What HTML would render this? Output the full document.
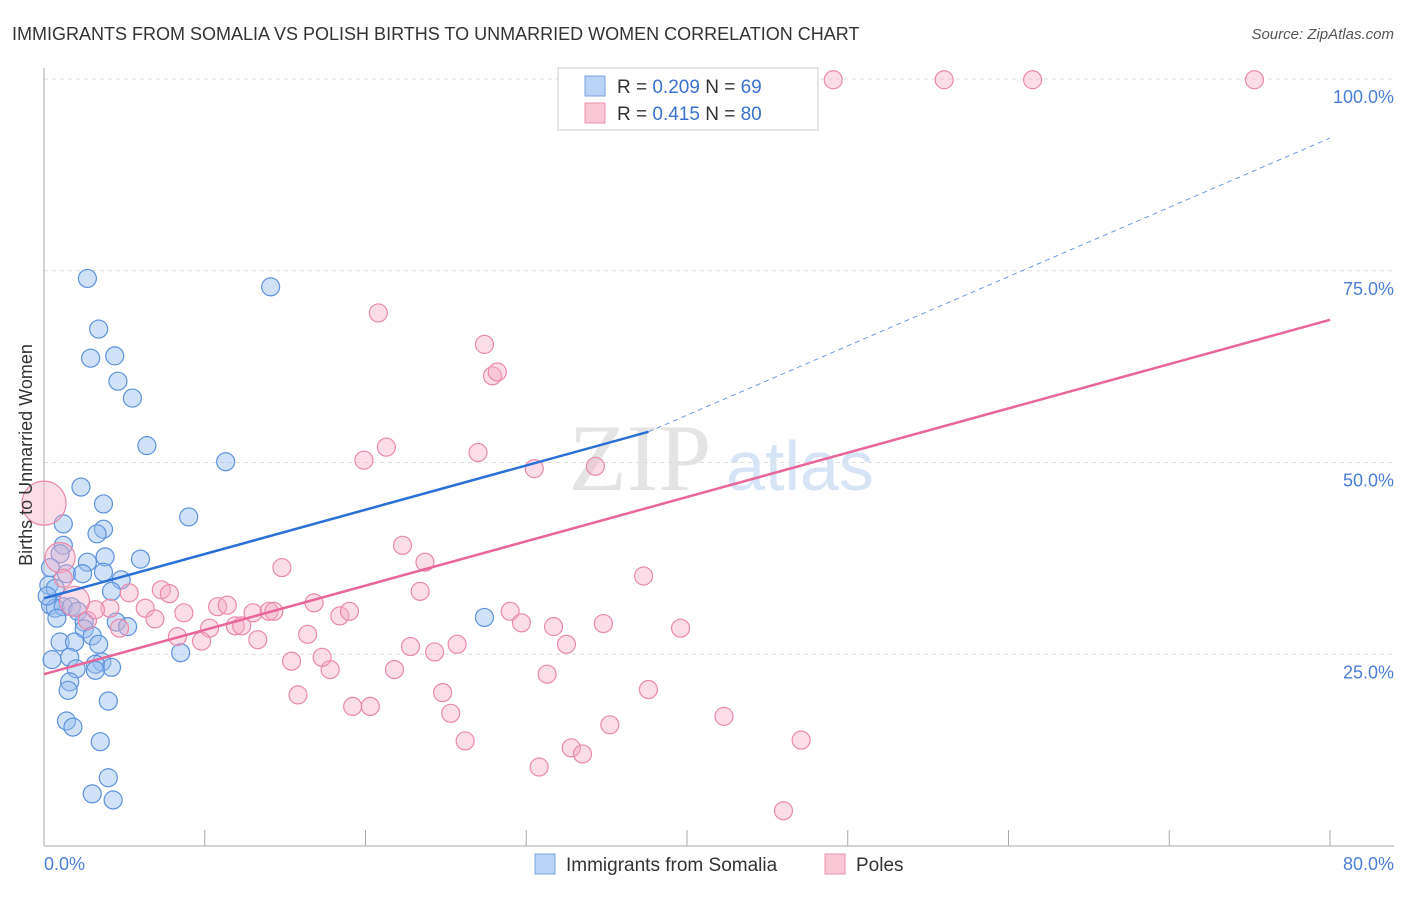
<!DOCTYPE html>
<html><head><meta charset="utf-8"><style>
body{margin:0;background:#fff;font-family:"Liberation Sans",sans-serif}
</style></head><body>
<svg width="1406" height="892" xmlns="http://www.w3.org/2000/svg" font-family="Liberation Sans, sans-serif">
<text x="12" y="40" font-size="18" fill="#333">IMMIGRANTS FROM SOMALIA VS POLISH BIRTHS TO UNMARRIED WOMEN CORRELATION CHART</text>
<text x="1394" y="39" font-size="15" fill="#555" font-style="italic" text-anchor="end">Source: ZipAtlas.com</text>
<text x="640" y="490" font-size="95" fill="#e4e4e4" font-family="Liberation Serif, serif" text-anchor="middle">ZIP</text>
<text x="800" y="490" font-size="70" fill="#d6e4f5" text-anchor="middle">atlas</text>
<g id="grid"></g>
<g id="axes"></g>
<g id="pts"></g>
<g id="lines"></g>
<text x="32" y="455" font-size="18" fill="#333" text-anchor="middle" transform="rotate(-90 32 455)">Births to Unmarried Women</text>
<text x="44" y="870" font-size="18" fill="#4a7fd4">0.0%</text>
<text x="1394" y="870" font-size="18" fill="#4a7fd4" text-anchor="end">80.0%</text>
<g>
<rect x="558" y="68" width="260" height="62" fill="#fff" stroke="#ccc"/>
<rect x="585" y="76" width="20" height="20" fill="#b8d3f5" stroke="#7aa6e0"/>
<rect x="585" y="103" width="20" height="20" fill="#f9c6d6" stroke="#ee93b0"/>
<text x="617" y="93" font-size="19" fill="#333">R = <tspan fill="#3a72cc">0.209</tspan>   N = <tspan fill="#3a72cc">69</tspan></text>
<text x="617" y="120" font-size="19" fill="#333">R =  <tspan fill="#3a72cc">0.415</tspan>   N = <tspan fill="#3a72cc">80</tspan></text>
</g>
<g>
<rect x="535" y="854" width="20" height="20" fill="#b8d3f5" stroke="#7aa6e0"/>
<text x="566" y="871" font-size="19" fill="#333">Immigrants from Somalia</text>
<rect x="825" y="854" width="20" height="20" fill="#f9c6d6" stroke="#ee93b0"/>
<text x="856" y="871" font-size="19" fill="#333">Poles</text>
</g>
</svg>
<script>
const yTicks=[25,50,75,100];
const xTicks=[0,10,20,30,40,50,60,70,80];
const blueX=[2.7,14.1,3.4,2.9,4.4,4.6,5.5,6.4,11.3,2.3,3.7,9.0,1.2,3.7,3.3,1.2,1.0,2.7,3.8,6.0,0.4,1.4,2.4,3.7,4.8,0.3,4.2,0.4,0.7,1.2,1.7,2.1,0.8,2.5,4.5,5.2,2.5,3.0,1.0,1.9,3.4,8.5,0.5,1.6,3.6,3.2,2.0,4.2,3.2,1.6,1.5,4.0,1.4,1.8,3.5,3.0,4.3,4.0,27.4,0.7,0.2];
const blueY=[74.0,72.9,67.4,63.6,63.9,60.6,58.4,52.2,50.1,46.8,44.6,42.9,42.0,41.3,40.7,39.2,38.1,37.0,37.7,37.4,36.3,35.5,35.5,35.7,34.7,34.0,33.2,31.4,31.0,31.2,31.2,30.6,29.7,29.2,29.2,28.6,28.3,27.4,26.6,26.6,26.3,25.2,24.3,24.6,24.0,23.7,23.1,23.3,22.9,21.4,20.3,18.9,16.3,15.5,13.6,6.8,6.0,8.9,29.8,33.6,32.6];
const blueR=[9,9,9,9,9,9,9,9,9,9,9,9,9,9,9,9,9,9,9,9,9,9,9,9,9,9,9,9,9,9,9,9,9,9,9,9,9,9,9,9,9,9,9,9,9,9,9,9,9,9,9,9,9,9,9,9,9,9,9,9,9];
const pinkX=[35.9,49.1,56.0,61.5,75.3,20.8,27.4,27.9,28.2,21.3,19.9,27.0,30.5,34.3,22.3,23.7,14.8,37.3,0,1.0,1.2,7.3,7.8,23.4,1.9,4.1,6.3,8.7,10.8,11.4,13.0,14.0,14.3,16.8,18.4,19.0,29.0,29.7,31.7,34.8,39.6,2.7,4.7,6.9,10.3,11.9,12.3,13.3,8.3,9.8,16.4,22.8,24.3,25.7,32.5,15.4,17.8,17.3,21.8,24.8,15.8,31.3,37.6,19.2,20.3,25.3,26.2,42.3,35.2,32.8,33.5,30.8,47.1,46.0,3.2,5.3];
const pinkY=[99.9,99.9,99.9,99.9,99.9,69.5,65.4,61.3,61.8,52.0,50.3,51.3,49.2,49.5,39.2,37.0,36.3,35.2,44.7,37.6,34.9,33.4,32.9,33.2,31.9,31.0,31.0,30.4,31.2,31.4,30.4,30.6,30.6,31.7,30.0,30.6,30.6,29.1,28.6,29.0,28.4,29.4,28.4,29.6,28.4,28.7,28.7,26.9,27.3,26.7,27.6,26.0,25.3,26.3,26.3,24.1,23.0,24.6,23.0,20.0,19.7,22.4,20.4,18.2,18.2,17.3,13.7,16.9,15.8,12.8,12.0,10.3,13.8,4.6,30.8,33.0];
const pinkR=[9,9,9,9,9,9,9,9,9,9,9,9,9,9,9,9,9,9,22,15,9,9,9,9,15,9,9,9,9,9,9,9,9,9,9,9,9,9,9,9,9,9,9,9,9,9,9,9,9,9,9,9,9,9,9,9,9,9,9,9,9,9,9,9,9,9,9,9,9,9,9,9,9,9,9,9];
const blueTrend=[[0,32.3],[37.6,54.0],[80,92.3]];
const pinkTrend=[[0,22.4],[80,68.6]];
const NS="http://www.w3.org/2000/svg";
const X0=44,X1=1330,Y0=846,PY=7.67;
const sx=v=>X0+v/80*(X1-X0);
const sy=v=>Y0-v*PY;
function mk(t,a,p){const e=document.createElementNS(NS,t);for(const k in a)e.setAttribute(k,a[k]);document.getElementById(p).appendChild(e);return e;}
yTicks.forEach(t=>{
 const l=mk('line',{x1:44,x2:1394,y1:sy(t),y2:sy(t),stroke:'#ddd','stroke-dasharray':'4,4'},'grid');
 
 
 const tx=mk('text',{x:1394,y:sy(t)+24,'font-size':18,fill:'#4a7fd4','text-anchor':'end'},'grid');
 tx.textContent=t.toFixed(1)+'%';
 
 
});
const ya=mk('line',{x1:44,x2:44,y1:68,y2:846,stroke:'#aaa'},'axes');


const xa=mk('line',{x1:44,x2:1394,y1:846,y2:846,stroke:'#aaa'},'axes');


xTicks.forEach(t=>{
 const l=mk('line',{x1:sx(t),x2:sx(t),y1:830,y2:846,stroke:'#aaa'},'axes');
 
 
});
blueX.forEach((v,i)=>{
 const c=mk('circle',{cx:sx(v),cy:sy(blueY[i]),r:blueR[i],fill:'rgba(150,190,240,0.45)',stroke:'#5d93dc','stroke-width':1.2},'pts');
 
 
});
pinkX.forEach((v,i)=>{
 const c=mk('circle',{cx:sx(v),cy:sy(pinkY[i]),r:pinkR[i],fill:'rgba(246,170,195,0.4)',stroke:'#ea8aab','stroke-width':1.2},'pts');
 
 
});
const b1=mk('line',{x1:sx(blueTrend[0][0]),y1:sy(blueTrend[0][1]),x2:sx(blueTrend[1][0]),y2:sy(blueTrend[1][1]),stroke:'#2a6fd6','stroke-width':2.5},'lines');


const b2=mk('line',{x1:sx(blueTrend[1][0]),y1:sy(blueTrend[1][1]),x2:sx(blueTrend[2][0]),y2:sy(blueTrend[2][1]),stroke:'#6a9ae0','stroke-width':1,'stroke-dasharray':'5,4'},'lines');


const p1=mk('line',{x1:sx(pinkTrend[0][0]),y1:sy(pinkTrend[0][1]),x2:sx(pinkTrend[1][0]),y2:sy(pinkTrend[1][1]),stroke:'#e8669a','stroke-width':2.5},'lines');


</script>
</body></html>
